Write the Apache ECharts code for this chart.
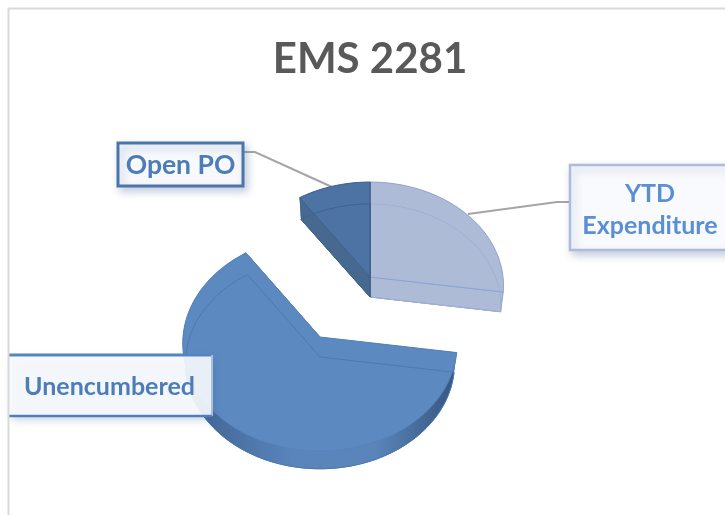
<!DOCTYPE html>
<html>
<head>
<meta charset="utf-8">
<style>
  html, body { margin: 0; padding: 0; background: #fff; overflow: hidden; }
  #chart { width: 725px; height: 515px; }
</style>
<script src="https://cdn.jsdelivr.net/npm/echarts@6/dist/echarts.min.js"></script>
</head>
<body>
<div id="chart"></div>
<script>
// slices, clockwise from 12 o'clock (percent)
const categories = ['YTD\nExpenditure', 'Unencumbered', 'Open PO'];
const values = [27.3, 63.1, 9.6];
const chartTitle = 'EMS 2281';

const FONT = 'Lato, "Open Sans", sans-serif';
const total = values.reduce((a, b) => a + b, 0);
const DEPTH = 20;   // thickness of the pie

// one look per slice, same order as categories
// k = perspective, far edge looks smaller than near edge
const looks = [
  { cx: 370, cy: 277, rx: 133, ry: 103.1, k: 0.0857, top: '#aebbd7', side: '#aebbd7', edge: '#8ea5d2', faint: '#a0b0d1' },
  { cx: 320, cy: 337, rx: 137, ry: 107.2, k: 0.06, top: '#5b89c0', side: '#4f79ad', edge: '#5583bb', faint: '#4c79b0' },
  { cx: 370, cy: 277, rx: 133, ry: 103.1, k: 0.0857, top: '#4c73a4', side: '#47688f', edge: '#40618c', faint: '#3f628f' }
];

function arcPoints(look, from, to, shift, scale) {
  const pts = [];
  const n = Math.max(2, Math.ceil((to - from) / 2));
  for (let i = 0; i <= n; i++) {
    const t = (from + (to - from) * i / n) * Math.PI / 180;
    const w = 1 + look.k * Math.cos(t);
    pts.push([
      look.cx + look.rx * scale * Math.sin(t) / w,
      look.cy + shift - look.ry * scale * Math.cos(t) / w
    ]);
  }
  return pts;
}

function renderSlice(params, api) {
  const idx = params.dataIndex;
  const look = looks[idx];
  let start = 0;
  for (let i = 0; i < idx; i++) start += values[i] / total * 360;
  const end = start + api.value(1) / total * 360;

  const topArc = arcPoints(look, start, end, 0, 1);
  const botArc = arcPoints(look, start, end, DEPTH, 0.98);
  const apexTop = [look.cx, look.cy];
  const apexBot = [look.cx, look.cy + DEPTH];
  const topFace = [apexTop].concat(topArc);
  const botFace = [apexBot].concat(botArc);
  const wall = topArc.concat(botArc.slice().reverse());

  let sideFill = look.side;
  if (idx === 1) {
    sideFill = {
      type: 'linear', global: true, x: 183, y: 0, x2: 457, y2: 0,
      colorStops: [
        { offset: 0, color: '#3d608e' },
        { offset: 0.4, color: '#5a85bb' },
        { offset: 0.7, color: '#5a85bb' },
        { offset: 1, color: '#35557f' }
      ]
    };
  }

  const children = [
    { type: 'polygon', shape: { points: botFace }, style: { fill: look.side, stroke: look.edge, lineWidth: 1 } },
    { type: 'polygon', shape: { points: wall }, style: { fill: sideFill } },
    { type: 'polygon', shape: { points: [apexTop, topArc[0], botArc[0], apexBot] }, style: { fill: look.side } },
    { type: 'polygon', shape: { points: [apexTop, topArc[topArc.length - 1], botArc[botArc.length - 1], apexBot] }, style: { fill: look.side, stroke: look.edge, lineWidth: 1 } },
    { type: 'polygon', shape: { points: topFace }, style: { fill: look.top, stroke: look.edge, lineWidth: 1 } },
    { type: 'polygon', shape: { points: botFace }, style: { fill: null, stroke: look.faint, lineWidth: 1 } }
  ];
  return { type: 'group', children: children };
}

function box(x, y, w, h, stroke, lineWidth, fill) {
  return {
    type: 'rect', z: 20,
    shape: { x: x, y: y, width: w, height: h },
    style: {
      fill: fill, stroke: stroke, lineWidth: lineWidth,
      shadowBlur: 8, shadowOffsetX: 3, shadowOffsetY: 4, shadowColor: 'rgba(70,100,150,0.3)'
    }
  };
}

function boxText(text, x, y, color, size, lineHeight) {
  return {
    type: 'text', z: 22, x: x, y: y,
    style: {
      text: text, fill: color, font: 'bold ' + size + 'px ' + FONT,
      align: 'center', verticalAlign: 'middle', lineHeight: lineHeight
    }
  };
}

function leader(points) {
  return {
    type: 'polyline', z: 1,
    shape: { points: points },
    style: { fill: null, stroke: '#a5a5a5', lineWidth: 2 }
  };
}

const chart = echarts.init(document.getElementById('chart'), null, { renderer: 'canvas' });
chart.setOption({
  animation: false,
  backgroundColor: '#ffffff',
  title: {
    text: chartTitle,
    left: 365, top: 33,
    textAlign: 'center',
    textStyle: { color: '#595959', fontFamily: FONT, fontWeight: 'bold', fontSize: 42 }
  },
  series: [{
    type: 'custom',
    coordinateSystem: 'none',
    z: 5,
    silent: true,
    renderItem: renderSlice,
    data: values.map((v, i) => [i, v])
  }],
  graphic: [
    // chart frame, only top and left are inside the picture
    { type: 'polyline', z: 30, shape: { points: [[8.5, 515], [8.5, 8.5], [725, 8.5]] }, style: { fill: null, stroke: '#d9d9d9', lineWidth: 2 } },
    leader([[243, 152], [255, 152], [332, 187]]),
    leader([[569, 202], [557, 202], [468, 214]]),
    box(118, 143, 125, 43, '#4a76ab', 3, '#f7f9fc'),
    boxText(categories[2], 180.5, 165, '#4c7db8', 26.5, 32),
    box(570, 165, 170, 85, '#aebcd9', 2.5, '#f9fafd'),
    boxText(categories[0], 650, 210, '#5a8ed6', 25, 32),
    // this box runs into the frame, so no left border
    box(9, 355, 203, 61, 'transparent', 0, 'rgba(246,248,252,0.92)'),
    { type: 'polyline', z: 21, shape: { points: [[9, 355], [212, 355]] }, style: { fill: null, stroke: '#5585be', lineWidth: 3 } },
    { type: 'polyline', z: 21, shape: { points: [[212, 355], [212, 416]] }, style: { fill: null, stroke: '#a9bfdd', lineWidth: 2 } },
    { type: 'polyline', z: 21, shape: { points: [[9, 416], [212, 416]] }, style: { fill: null, stroke: '#4f7fba', lineWidth: 2.5 } },
    boxText(categories[1], 109.5, 387, '#4c7db8', 25, 32)
  ]
});
</script>
</body>
</html>
